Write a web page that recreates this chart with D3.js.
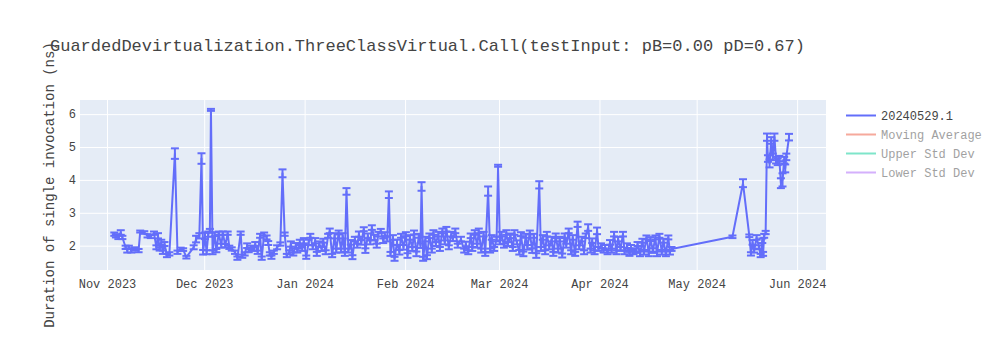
<!DOCTYPE html>
<html>
<head>
<meta charset="utf-8">
<script src="https://cdn.jsdelivr.net/npm/d3@7"></script>
<style>
  body { margin: 0; background: #fff; }
  svg { display: block; }
  text { font-family: "Courier New", "Liberation Mono", monospace; fill: #444; }
</style>
</head>
<body>
<div id="chart"></div>
<script>
const title = 'GuardedDevirtualization.ThreeClassVirtual.Call(testInput: pB=0.00 pD=0.67)'
const yTitle = 'Duration of single invocation (ns)'
const seriesNames = ['20240529.1', 'Moving Average', 'Upper Std Dev', 'Lower Std Dev']
const seriesColors = ['#636efa', '#EF553B', '#00cc96', '#ab63fa']
const xTicks = ['2023-11-01', '2023-12-01', '2024-01-01', '2024-02-01', '2024-03-01', '2024-04-01', '2024-05-01', '2024-06-01']
const yTicks = [2, 3, 4, 5, 6]
const xRange = ['2023-10-23 16', '2024-06-09 22']
const yRange = [1.26, 6.43]

// run timestamps, mean duration (ns), error (ns) -- 10 per line
const runDates = [
  '2023-11-03 06', '2023-11-03 18', '2023-11-04 12', '2023-11-05 06', '2023-11-05 18', '2023-11-06 18', '2023-11-07 06', '2023-11-07 18', '2023-11-08 12', '2023-11-09 12',
  '2023-11-10 18', '2023-11-11 06', '2023-11-12 12', '2023-11-13 12', '2023-11-14 12', '2023-11-15 12', '2023-11-16 06', '2023-11-16 18', '2023-11-17 06', '2023-11-17 18',
  '2023-11-18 06', '2023-11-18 18', '2023-11-19 12', '2023-11-20 06', '2023-11-21 23', '2023-11-22 18', '2023-11-23 18', '2023-11-24 12', '2023-11-25 12', '2023-11-27 18',
  '2023-11-28 12', '2023-11-29 12', '2023-11-30 04', '2023-11-30 16', '2023-12-01 06', '2023-12-01 18', '2023-12-02 06', '2023-12-02 18', '2023-12-03 02', '2023-12-03 14',
  '2023-12-04 06', '2023-12-04 18', '2023-12-05 12', '2023-12-06 06', '2023-12-06 18', '2023-12-07 12', '2023-12-08 06', '2023-12-08 18', '2023-12-09 12', '2023-12-10 12',
  '2023-12-11 06', '2023-12-12 06', '2023-12-12 18', '2023-12-13 12', '2023-12-14 06', '2023-12-14 18', '2023-12-15 12', '2023-12-16 06', '2023-12-16 18', '2023-12-17 12',
  '2023-12-18 06', '2023-12-18 18', '2023-12-19 12', '2023-12-20 06', '2023-12-20 18', '2023-12-21 06', '2023-12-21 18', '2023-12-22 12', '2023-12-23 12', '2023-12-24 12',
  '2023-12-25 04', '2023-12-25 20', '2023-12-26 12', '2023-12-27 06', '2023-12-27 18', '2023-12-28 12', '2023-12-29 06', '2023-12-29 18', '2023-12-30 12', '2023-12-31 06',
  '2023-12-31 18', '2024-01-01 12', '2024-01-02 06', '2024-01-02 18', '2024-01-03 12', '2024-01-04 06', '2024-01-04 18', '2024-01-05 12', '2024-01-06 06', '2024-01-06 18',
  '2024-01-07 12', '2024-01-08 06', '2024-01-08 18', '2024-01-09 12', '2024-01-10 06', '2024-01-10 18', '2024-01-11 12', '2024-01-12 06', '2024-01-12 18', '2024-01-13 10',
  '2024-01-13 22', '2024-01-14 12', '2024-01-15 06', '2024-01-15 18', '2024-01-16 12', '2024-01-17 06', '2024-01-17 18', '2024-01-18 12', '2024-01-19 06', '2024-01-19 18',
  '2024-01-20 12', '2024-01-21 06', '2024-01-21 18', '2024-01-22 12', '2024-01-23 06', '2024-01-23 18', '2024-01-24 12', '2024-01-25 06', '2024-01-25 18', '2024-01-26 12',
  '2024-01-27 00', '2024-01-27 12', '2024-01-28 06', '2024-01-28 18', '2024-01-29 12', '2024-01-30 06', '2024-01-30 18', '2024-01-31 12', '2024-02-01 06', '2024-02-01 18',
  '2024-02-02 12', '2024-02-03 06', '2024-02-03 18', '2024-02-04 12', '2024-02-05 06', '2024-02-05 18', '2024-02-06 02', '2024-02-06 14', '2024-02-07 06', '2024-02-07 18',
  '2024-02-08 12', '2024-02-09 06', '2024-02-09 18', '2024-02-10 12', '2024-02-11 06', '2024-02-11 18', '2024-02-12 12', '2024-02-13 06', '2024-02-13 18', '2024-02-14 12',
  '2024-02-15 06', '2024-02-15 18', '2024-02-16 12', '2024-02-17 06', '2024-02-18 06', '2024-02-19 06', '2024-02-19 18', '2024-02-20 12', '2024-02-21 06', '2024-02-21 18',
  '2024-02-22 12', '2024-02-23 06', '2024-02-23 18', '2024-02-24 12', '2024-02-25 06', '2024-02-25 18', '2024-02-26 15', '2024-02-27 06', '2024-02-27 18', '2024-02-28 12',
  '2024-02-29 06', '2024-02-29 17', '2024-03-01 06', '2024-03-01 18', '2024-03-02 12', '2024-03-03 06', '2024-03-03 18', '2024-03-04 12', '2024-03-05 06', '2024-03-05 18',
  '2024-03-06 12', '2024-03-07 06', '2024-03-07 18', '2024-03-08 12', '2024-03-09 06', '2024-03-09 18', '2024-03-10 12', '2024-03-11 06', '2024-03-11 18', '2024-03-12 12',
  '2024-03-13 10', '2024-03-13 22', '2024-03-14 12', '2024-03-15 06', '2024-03-15 18', '2024-03-16 12', '2024-03-17 06', '2024-03-17 18', '2024-03-18 12', '2024-03-19 06',
  '2024-03-19 18', '2024-03-20 12', '2024-03-21 06', '2024-03-21 18', '2024-03-22 12', '2024-03-23 06', '2024-03-23 18', '2024-03-24 12', '2024-03-25 06', '2024-03-25 18',
  '2024-03-26 12', '2024-03-27 06', '2024-03-27 18', '2024-03-28 12', '2024-03-29 06', '2024-03-29 18', '2024-03-30 12', '2024-03-31 06', '2024-03-31 18', '2024-04-01 12',
  '2024-04-02 06', '2024-04-02 18', '2024-04-03 12', '2024-04-04 06', '2024-04-04 18', '2024-04-05 12', '2024-04-06 06', '2024-04-06 18', '2024-04-07 12', '2024-04-08 06',
  '2024-04-08 18', '2024-04-09 12', '2024-04-10 06', '2024-04-10 18', '2024-04-11 12', '2024-04-12 06', '2024-04-12 18', '2024-04-13 12', '2024-04-14 06', '2024-04-14 18',
  '2024-04-15 12', '2024-04-16 06', '2024-04-16 18', '2024-04-17 12', '2024-04-18 06', '2024-04-18 18', '2024-04-19 12', '2024-04-20 06', '2024-04-20 18', '2024-04-21 12',
  '2024-04-22 06', '2024-04-22 18', '2024-04-23 06', '2024-05-12 01', '2024-05-15 07', '2024-05-17 06', '2024-05-17 18', '2024-05-18 06', '2024-05-18 18', '2024-05-19 12',
  '2024-05-20 06', '2024-05-20 18', '2024-05-21 06', '2024-05-21 12', '2024-05-21 20', '2024-05-22 07', '2024-05-22 17', '2024-05-23 00', '2024-05-23 12', '2024-05-24 00',
  '2024-05-24 12', '2024-05-25 00', '2024-05-25 12', '2024-05-26 00', '2024-05-26 12', '2024-05-27 00', '2024-05-27 12', '2024-05-28 00', '2024-05-28 08', '2024-05-28 16',
  '2024-05-29 12'
]
const durations = [
  2.35, 2.30, 2.25, 2.40, 2.25, 1.95, 1.85, 1.95, 1.85, 1.90,
  1.85, 2.43, 2.40, 2.30, 2.28, 2.38, 1.95, 2.30, 1.90, 2.10,
  1.80, 2.05, 1.70, 1.75, 4.80, 1.80, 1.90, 1.88, 1.65, 1.95,
  2.20, 2.30, 4.65, 1.80, 2.30, 1.80, 2.35, 2.45, 6.13, 1.80,
  2.35, 1.85, 2.38, 2.00, 2.38, 2.00, 2.38, 1.95, 1.90, 1.80,
  1.62, 2.38, 1.68, 1.75, 2.00, 1.85, 1.95, 1.90, 2.05, 1.80,
  2.30, 1.62, 2.35, 2.25, 2.08, 1.75, 1.65, 1.80, 1.95, 2.05,
  4.20, 2.35, 1.70, 1.80, 2.05, 1.75, 2.00, 1.85, 2.10, 1.90,
  2.15, 1.65, 2.10, 2.30, 1.95, 2.15, 1.75, 2.05, 1.90, 2.15,
  1.80, 2.30, 2.45, 1.70, 2.30, 1.85, 2.40, 1.85, 2.30, 1.75,
  3.65, 1.85, 2.10, 1.65, 2.20, 2.00, 2.35, 2.10, 2.50, 1.85,
  2.30, 2.10, 2.55, 2.25, 2.00, 2.35, 2.45, 2.15, 2.35, 2.20,
  3.55, 1.75, 2.25, 1.60, 2.10, 1.80, 2.30, 1.95, 2.35, 1.70,
  2.25, 1.90, 2.40, 1.75, 2.30, 2.00, 3.80, 1.60, 2.20, 1.65,
  2.30, 1.85, 2.40, 2.05, 2.35, 1.90, 2.45, 2.10, 2.50, 1.95,
  2.35, 2.20, 2.45, 2.00, 2.20, 1.85, 2.05, 1.80, 2.30, 1.90,
  2.40, 2.00, 2.45, 1.85, 2.35, 1.75, 3.66, 1.85, 2.25, 1.90,
  2.20, 4.43, 2.10, 2.35, 2.00, 2.40, 2.05, 2.30, 1.90, 2.40,
  2.10, 1.80, 2.35, 1.75, 2.30, 1.95, 2.40, 1.85, 2.30, 1.70,
  3.85, 1.90, 2.25, 1.80, 2.35, 1.95, 2.20, 1.75, 2.30, 1.85,
  2.20, 1.70, 2.30, 2.00, 2.45, 1.80, 2.25, 1.75, 2.65, 1.95,
  2.20, 1.80, 2.30, 2.55, 1.85, 2.15, 1.80, 2.45, 1.90, 2.00,
  1.85, 1.95, 1.80, 2.10, 1.85, 2.35, 1.80, 2.20, 1.90, 2.35,
  1.80, 2.00, 1.75, 1.95, 1.80, 1.85, 2.05, 1.75, 2.15, 1.80,
  2.25, 1.75, 2.20, 1.85, 2.25, 1.75, 2.30, 1.80, 2.15, 1.75,
  2.25, 1.80, 1.90, 2.27, 3.90, 2.30, 1.75, 2.10, 1.85, 2.25,
  1.95, 1.70, 2.15, 1.75, 2.30, 2.40, 5.30, 4.65, 4.50, 5.20,
  4.70, 5.30, 4.60, 4.55, 4.65, 3.90, 4.00, 4.60, 4.35, 4.70,
  5.30
]
const stdErrors = [
  0.05, 0.05, 0.05, 0.07, 0.05, 0.05, 0.06, 0.05, 0.06, 0.05,
  0.05, 0.03, 0.04, 0.05, 0.05, 0.05, 0.06, 0.08, 0.05, 0.08,
  0.05, 0.06, 0.05, 0.05, 0.16, 0.05, 0.04, 0.04, 0.04, 0.06,
  0.10, 0.08, 0.16, 0.07, 0.10, 0.06, 0.08, 0.06, 0.03, 0.06,
  0.06, 0.05, 0.05, 0.06, 0.05, 0.05, 0.05, 0.05, 0.05, 0.05,
  0.05, 0.05, 0.05, 0.05, 0.07, 0.05, 0.05, 0.06, 0.06, 0.05,
  0.06, 0.05, 0.05, 0.06, 0.06, 0.05, 0.05, 0.05, 0.06, 0.05,
  0.12, 0.05, 0.05, 0.06, 0.08, 0.05, 0.08, 0.06, 0.08, 0.06,
  0.08, 0.05, 0.08, 0.06, 0.06, 0.08, 0.06, 0.08, 0.06, 0.06,
  0.06, 0.06, 0.07, 0.05, 0.08, 0.06, 0.06, 0.06, 0.08, 0.06,
  0.10, 0.06, 0.07, 0.06, 0.07, 0.06, 0.08, 0.07, 0.06, 0.07,
  0.07, 0.06, 0.07, 0.08, 0.06, 0.07, 0.06, 0.07, 0.06, 0.07,
  0.10, 0.06, 0.07, 0.06, 0.08, 0.07, 0.06, 0.07, 0.06, 0.07,
  0.07, 0.06, 0.06, 0.07, 0.06, 0.07, 0.13, 0.06, 0.07, 0.06,
  0.07, 0.06, 0.07, 0.06, 0.07, 0.06, 0.07, 0.06, 0.07, 0.06,
  0.07, 0.06, 0.07, 0.06, 0.07, 0.06, 0.07, 0.06, 0.07, 0.06,
  0.07, 0.06, 0.07, 0.06, 0.07, 0.06, 0.14, 0.06, 0.07, 0.06,
  0.07, 0.03, 0.06, 0.07, 0.06, 0.07, 0.06, 0.07, 0.06, 0.07,
  0.06, 0.07, 0.06, 0.07, 0.06, 0.07, 0.06, 0.07, 0.06, 0.07,
  0.11, 0.06, 0.07, 0.06, 0.07, 0.06, 0.07, 0.06, 0.07, 0.06,
  0.07, 0.06, 0.07, 0.06, 0.07, 0.06, 0.07, 0.06, 0.08, 0.06,
  0.07, 0.06, 0.07, 0.10, 0.06, 0.07, 0.06, 0.10, 0.06, 0.07,
  0.06, 0.07, 0.06, 0.07, 0.06, 0.07, 0.06, 0.07, 0.06, 0.07,
  0.06, 0.07, 0.06, 0.07, 0.06, 0.07, 0.06, 0.07, 0.06, 0.07,
  0.06, 0.07, 0.06, 0.07, 0.06, 0.07, 0.06, 0.07, 0.06, 0.07,
  0.06, 0.07, 0.06, 0.04, 0.12, 0.04, 0.05, 0.07, 0.06, 0.07,
  0.06, 0.05, 0.07, 0.06, 0.06, 0.05, 0.11, 0.10, 0.12, 0.10,
  0.10, 0.11, 0.10, 0.10, 0.08, 0.15, 0.20, 0.10, 0.12, 0.10,
  0.10
]

const width = 1000
const height = 350
const margin = { top: 100, right: 174, bottom: 80, left: 80 }
const innerW = width - margin.left - margin.right
const innerH = height - margin.top - margin.bottom

const parseTime = d3.timeParse('%Y-%m-%d %H')
const parseDay = d3.timeParse('%Y-%m-%d')

const points = runDates.map((d, i) => ({
  date: parseTime(d),
  value: durations[i],
  err: stdErrors[i],
}))

const x = d3.scaleTime()
  .domain(xRange.map(parseTime))
  .range([margin.left, margin.left + innerW])
const y = d3.scaleLinear()
  .domain(yRange)
  .range([margin.top + innerH, margin.top])

const svg = d3.select('#chart').append('svg')
  .attr('width', width)
  .attr('height', height)

svg.append('rect')
  .attr('x', margin.left)
  .attr('y', margin.top)
  .attr('width', innerW)
  .attr('height', innerH)
  .attr('fill', '#e5ecf6')

// grid
svg.append('g')
  .attr('transform', `translate(0,${margin.top + innerH})`)
  .call(d3.axisBottom(x)
    .tickValues(xTicks.map(parseDay))
    .tickSize(-innerH)
    .tickFormat(d3.timeFormat('%b %Y')))
  .call(g => g.select('.domain').remove())
  .call(g => g.selectAll('line').attr('stroke', '#fff').attr('stroke-width', 1))
  .call(g => g.selectAll('text')
    .attr('y', 9)
    .attr('dy', '0.71em')
    .style('font-size', '12px')
    .style('font-family', '"Courier New", "Liberation Mono", monospace')
    .attr('fill', '#444'))

svg.append('g')
  .attr('transform', `translate(${margin.left},0)`)
  .call(d3.axisLeft(y)
    .tickValues(yTicks)
    .tickSize(-innerW)
    .tickFormat(d3.format('d')))
  .call(g => g.select('.domain').remove())
  .call(g => g.selectAll('line').attr('stroke', '#fff').attr('stroke-width', 1))
  .call(g => g.selectAll('text')
    .attr('x', -4)
    .style('font-size', '12px')
    .style('font-family', '"Courier New", "Liberation Mono", monospace')
    .attr('fill', '#444'))

svg.append('clipPath').attr('id', 'plot-clip')
  .append('rect')
  .attr('x', margin.left)
  .attr('y', margin.top)
  .attr('width', innerW)
  .attr('height', innerH)

const plot = svg.append('g').attr('clip-path', 'url(#plot-clip)')

const line = d3.line()
  .x(d => x(d.date))
  .y(d => y(d.value))

plot.append('path')
  .datum(points)
  .attr('fill', 'none')
  .attr('stroke', seriesColors[0])
  .attr('stroke-width', 2)
  .attr('stroke-linejoin', 'round')
  .attr('d', line)

const bars = plot.append('g')
  .attr('stroke', seriesColors[0])
  .attr('stroke-width', 2)
  .selectAll('g')
  .data(points)
  .enter().append('g')

bars.append('line')
  .attr('x1', d => x(d.date))
  .attr('x2', d => x(d.date))
  .attr('y1', d => y(d.value - d.err))
  .attr('y2', d => y(d.value + d.err))
bars.append('line')
  .attr('x1', d => x(d.date) - 4)
  .attr('x2', d => x(d.date) + 4)
  .attr('y1', d => y(d.value + d.err))
  .attr('y2', d => y(d.value + d.err))
bars.append('line')
  .attr('x1', d => x(d.date) - 4)
  .attr('x2', d => x(d.date) + 4)
  .attr('y1', d => y(d.value - d.err))
  .attr('y2', d => y(d.value - d.err))

// title
svg.append('text')
  .attr('x', 50)
  .attr('y', 51)
  .style('font-size', '17px')
  .text(title)

svg.append('text')
  .attr('transform', `translate(54,${margin.top + innerH / 2})rotate(-90)`)
  .attr('text-anchor', 'middle')
  .style('font-size', '14px')
  .text(yTitle)

// legend: only the first trace is visible, the rest are legend-only
const legend = svg.append('g')
  .selectAll('g')
  .data(seriesNames)
  .enter().append('g')
  .attr('transform', (d, i) => `translate(846,${115.5 + i * 19})`)
  .attr('opacity', (d, i) => i === 0 ? 1 : 0.5)

legend.append('line')
  .attr('x1', 0)
  .attr('x2', 30)
  .attr('stroke', (d, i) => seriesColors[i])
  .attr('stroke-width', 2)

legend.append('text')
  .attr('x', 35)
  .attr('dy', '0.35em')
  .style('font-size', '12px')
  .text(d => d)
</script>
</body>
</html>
